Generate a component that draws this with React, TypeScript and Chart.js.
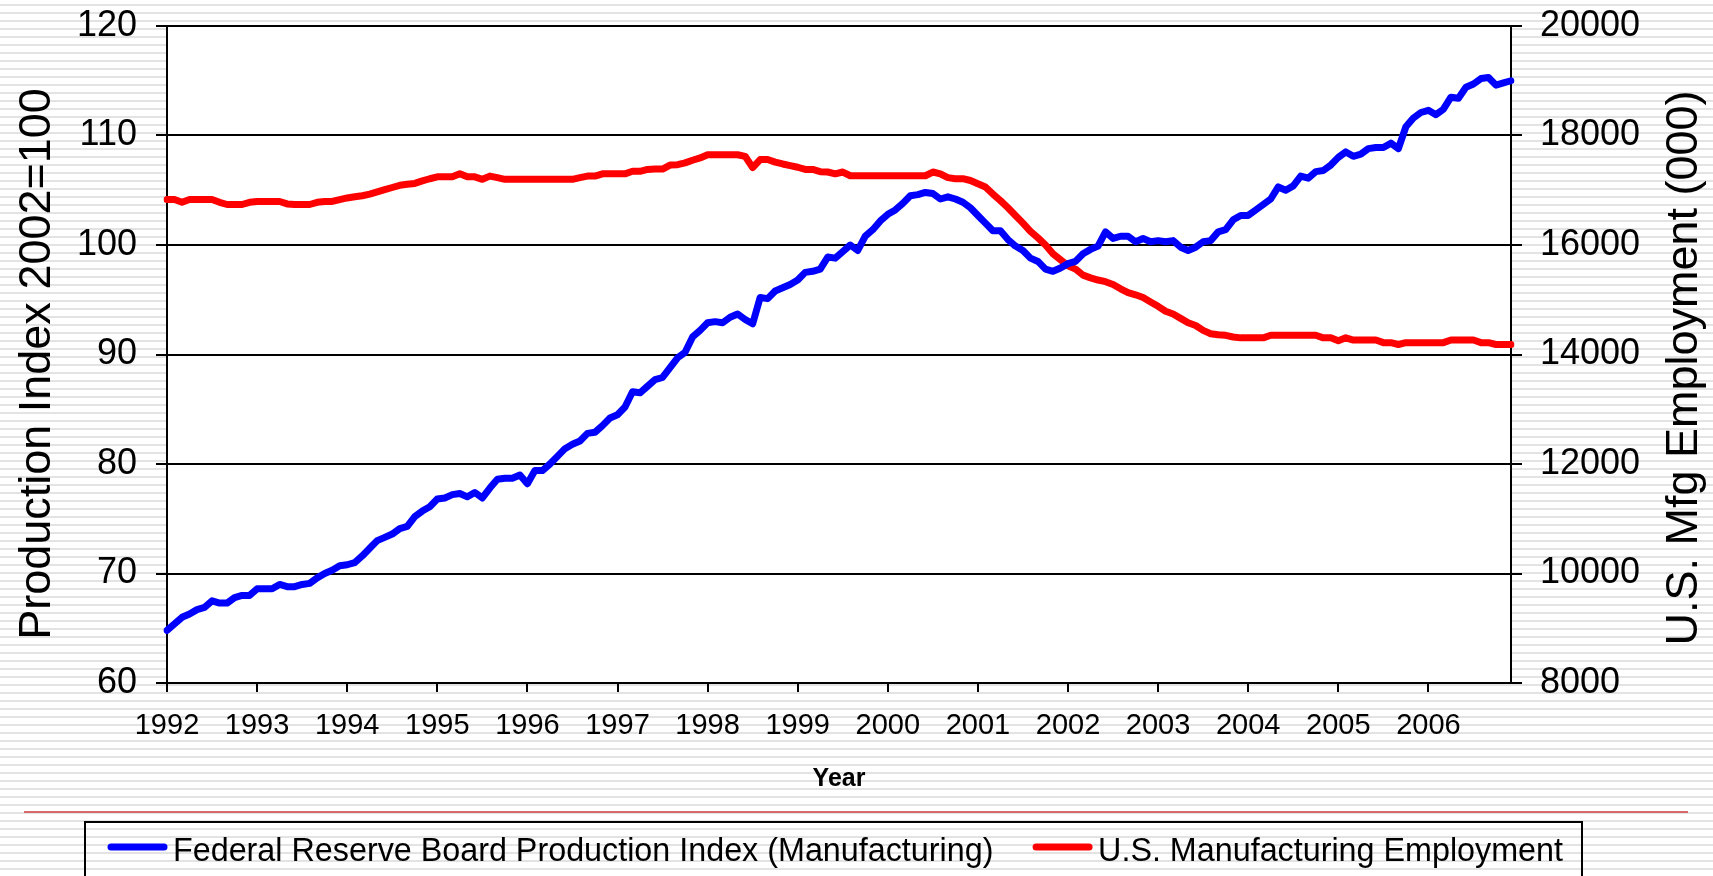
import React, { useEffect, useRef } from 'react';
import { Chart, registerables } from 'chart.js';

Chart.register(...registerables);

// ---------- data ----------
const YEARS = [1992, 1993, 1994, 1995, 1996, 1997, 1998, 1999, 2000, 2001, 2002, 2003, 2004, 2005, 2006];
const MONTHS = ['Jan', 'Feb', 'Mar', 'Apr', 'May', 'Jun', 'Jul', 'Aug', 'Sep', 'Oct', 'Nov', 'Dec'];
const MONTH_LABELS = YEARS.flatMap((y) => MONTHS.map((m) => `${m} ${y}`));

// Federal Reserve Board Production Index (Manufacturing), 2002 = 100, monthly
const PRODUCTION_INDEX = [
  64.8, 65.4, 66.0, 66.3, 66.7, 66.9, 67.5, 67.3, 67.3, 67.8, 68.0, 68.0, // 1992
  68.6, 68.6, 68.6, 69.0, 68.8, 68.8, 69.0, 69.1, 69.6, 70.0, 70.3, 70.7, // 1993
  70.8, 71.0, 71.6, 72.3, 73.0, 73.3, 73.6, 74.1, 74.3, 75.2, 75.7, 76.1, // 1994
  76.8, 76.9, 77.2, 77.3, 77.0, 77.4, 76.9, 77.8, 78.6, 78.7, 78.7, 79.0, // 1995
  78.2, 79.4, 79.4, 80.0, 80.7, 81.4, 81.8, 82.1, 82.8, 82.9, 83.5, 84.2, // 1996
  84.5, 85.2, 86.6, 86.5, 87.1, 87.7, 87.9, 88.8, 89.7, 90.2, 91.6, 92.2, // 1997
  92.9, 93.0, 92.9, 93.4, 93.7, 93.2, 92.8, 95.2, 95.1, 95.8, 96.1, 96.4, // 1998
  96.8, 97.5, 97.6, 97.8, 98.9, 98.8, 99.4, 100.0, 99.5, 100.8, 101.4, 102.2, // 1999
  102.8, 103.2, 103.8, 104.5, 104.6, 104.8, 104.7, 104.2, 104.4, 104.2, 103.9, 103.4, // 2000
  102.7, 102.0, 101.3, 101.3, 100.5, 99.9, 99.5, 98.8, 98.5, 97.8, 97.6, 97.9, // 2001
  98.3, 98.5, 99.2, 99.6, 99.9, 101.2, 100.6, 100.8, 100.8, 100.3, 100.6, 100.3, // 2002
  100.4, 100.3, 100.4, 99.8, 99.5, 99.8, 100.3, 100.4, 101.2, 101.4, 102.3, 102.7, // 2003
  102.7, 103.2, 103.7, 104.2, 105.3, 105.0, 105.4, 106.3, 106.1, 106.7, 106.8, 107.3, // 2004
  108.0, 108.5, 108.1, 108.3, 108.8, 108.9, 108.9, 109.3, 108.8, 110.8, 111.6, 112.1, // 2005
  112.3, 111.9, 112.4, 113.5, 113.4, 114.4, 114.7, 115.2, 115.3, 114.6, 114.8, 115.0, // 2006
];

// U.S. Manufacturing Employment (000), monthly
const MFG_EMPLOYMENT = [
  16830, 16830, 16780, 16830, 16830, 16830, 16830, 16780, 16740, 16740, 16740, 16780, // 1992
  16795, 16795, 16795, 16795, 16750, 16740, 16740, 16740, 16780, 16795, 16795, 16830, // 1993
  16860, 16880, 16900, 16930, 16970, 17010, 17050, 17090, 17110, 17125, 17170, 17210, // 1994
  17245, 17245, 17245, 17300, 17245, 17245, 17200, 17258, 17230, 17200, 17200, 17200, // 1995
  17200, 17200, 17200, 17200, 17200, 17200, 17200, 17230, 17258, 17258, 17300, 17300, // 1996
  17300, 17300, 17346, 17346, 17380, 17386, 17386, 17460, 17467, 17500, 17548, 17590, // 1997
  17649, 17649, 17649, 17649, 17649, 17620, 17413, 17561, 17561, 17514, 17480, 17450, // 1998
  17420, 17380, 17380, 17340, 17333, 17300, 17333, 17265, 17265, 17265, 17265, 17265, // 1999
  17265, 17265, 17265, 17265, 17265, 17265, 17333, 17300, 17230, 17211, 17211, 17178, // 2000
  17120, 17060, 16930, 16810, 16680, 16540, 16400, 16250, 16130, 16000, 15840, 15730, // 2001
  15620, 15560, 15450, 15400, 15360, 15330, 15280, 15200, 15130, 15090, 15040, 14960, // 2002
  14880, 14790, 14740, 14660, 14580, 14530, 14440, 14380, 14360, 14350, 14320, 14304, // 2003
  14304, 14304, 14304, 14351, 14351, 14351, 14351, 14351, 14351, 14351, 14304, 14304, // 2004
  14250, 14304, 14264, 14264, 14264, 14264, 14216, 14216, 14183, 14216, 14216, 14216, // 2005
  14216, 14216, 14216, 14264, 14264, 14264, 14264, 14216, 14216, 14183, 14183, 14183, // 2006
];

const SERIES_NAMES = [
  'Federal Reserve Board Production Index (Manufacturing)',
  'U.S. Manufacturing Employment',
];
const LEFT_TITLE = 'Production Index 2002=100';
const RIGHT_TITLE = 'U.S. Mfg Employment (000)';
const X_TITLE = 'Year';

const BLUE = '#0000ff';
const RED = '#ff0000';
const FONT = '"Liberation Sans", Arial, sans-serif';

const decorPlugin = {
  id: 'decor',
  beforeDraw(chart: any) {
    const { ctx, chartArea: a } = chart;
    ctx.save();
    ctx.fillStyle = '#ffffff';
    ctx.fillRect(a.left, a.top, a.right - a.left, a.bottom - a.top);
    ctx.restore();
  },
  afterDraw(chart: any) {
    const { ctx, chartArea: a } = chart;
    ctx.save();
    ctx.fillStyle = '#000';
    ctx.textAlign = 'center';
    ctx.textBaseline = 'alphabetic';
    ctx.font = `45px ${FONT}`;
    // left axis title
    ctx.save();
    ctx.translate(50, 364);
    ctx.rotate(-Math.PI / 2);
    ctx.fillText(LEFT_TITLE, 0, 0);
    ctx.restore();
    // right axis title
    ctx.save();
    ctx.translate(1697, 368);
    ctx.rotate(-Math.PI / 2);
    ctx.fillText(RIGHT_TITLE, 0, 0);
    ctx.restore();
    // x title
    ctx.font = `bold 25px ${FONT}`;
    ctx.textBaseline = 'middle';
    ctx.fillText(X_TITLE, (a.left + a.right) / 2, 779);

    // separator line
    ctx.strokeStyle = '#d76a6a';
    ctx.lineWidth = 2;
    ctx.beginPath();
    ctx.moveTo(24, 812);
    ctx.lineTo(1688, 812);
    ctx.stroke();

    // legend box
    ctx.strokeStyle = '#000';
    ctx.lineWidth = 2;
    ctx.strokeRect(85, 822, 1497, 120);

    ctx.font = `32.3px ${FONT}`;
    ctx.textAlign = 'left';
    ctx.textBaseline = 'alphabetic';
    ctx.lineCap = 'round';
    ctx.lineWidth = 7;
    // item 1
    ctx.strokeStyle = BLUE;
    ctx.beginPath();
    ctx.moveTo(111, 847);
    ctx.lineTo(164, 847);
    ctx.stroke();
    ctx.fillText(SERIES_NAMES[0], 173, 861);
    // item 2
    const w2 = ctx.measureText(SERIES_NAMES[1]).width;
    const x2 = 1563 - w2;
    ctx.strokeStyle = RED;
    ctx.beginPath();
    ctx.moveTo(x2 - 62, 847);
    ctx.lineTo(x2 - 9, 847);
    ctx.stroke();
    ctx.fillText(SERIES_NAMES[1], x2, 861);
    ctx.restore();
  },
};

export default function App() {
  const ref = useRef<HTMLCanvasElement>(null);

  useEffect(() => {
    document.body.style.margin = '0';
    document.body.style.overflow = 'hidden';
    const canvas = ref.current!;
    const chart = new Chart(canvas, {
      type: 'line',
      data: {
        labels: MONTH_LABELS,
        datasets: [
          {
            label: SERIES_NAMES[0],
            data: PRODUCTION_INDEX,
            yAxisID: 'y',
            borderColor: BLUE,
            backgroundColor: BLUE,
            borderWidth: 7,
            borderJoinStyle: 'round',
            borderCapStyle: 'round',
            pointRadius: 0,
            tension: 0,
          },
          {
            label: SERIES_NAMES[1],
            data: MFG_EMPLOYMENT,
            yAxisID: 'y1',
            borderColor: RED,
            backgroundColor: RED,
            borderWidth: 7,
            borderJoinStyle: 'round',
            borderCapStyle: 'round',
            pointRadius: 0,
            tension: 0,
          },
        ],
      },
      options: {
        animation: false,
        responsive: false,
        devicePixelRatio: 1,
        layout: { padding: { top: 26, left: 0, right: 0, bottom: 0 } },
        plugins: {
          legend: { display: false },
          tooltip: { enabled: false },
        },
        scales: {
          x: {
            type: 'category',
            offset: false,
            grid: {
              drawOnChartArea: false,
              drawTicks: true,
              tickLength: 9,
              lineWidth: 2,
              color: (c: any) => (c.index % 12 === 0 ? '#000' : 'rgba(0,0,0,0)'),
            },
            border: { display: true, color: '#000', width: 2 },
            ticks: {
              autoSkip: false,
              maxRotation: 0,
              minRotation: 0,
              padding: 17,
              color: '#000',
              font: { family: FONT, size: 29 },
              callback: (_v: any, i: number) => (i % 12 === 0 ? String(YEARS[i / 12]) : ''),
            },
            afterFit: (s: any) => {
              s.height = 193;
              s.paddingLeft = 0;
              s.paddingRight = 0;
            },
          },
          y: {
            position: 'left',
            min: 60,
            max: 120,
            ticks: {
              stepSize: 10,
              padding: 19,
              color: '#000',
              font: { family: FONT, size: 36 },
            },
            grid: { color: '#000', lineWidth: 2, tickLength: 11 },
            border: { display: true, color: '#000', width: 2 },
            afterFit: (s: any) => {
              s.width = 167;
              s.paddingTop = 0;
              s.paddingBottom = 0;
            },
          },
          y1: {
            position: 'right',
            min: 8000,
            max: 20000,
            ticks: {
              stepSize: 2000,
              padding: 18,
              color: '#000',
              font: { family: FONT, size: 36 },
              callback: (v: any) => String(v),
            },
            grid: { drawOnChartArea: false, color: '#000', lineWidth: 2, tickLength: 11 },
            border: { display: true, color: '#000', width: 2 },
            afterFit: (s: any) => {
              s.width = 202;
              s.paddingTop = 0;
              s.paddingBottom = 0;
            },
          },
        },
      },
      plugins: [decorPlugin],
    } as any);
    return () => chart.destroy();
  }, []);

  return (
    <div
      style={{
        position: 'relative',
        width: 1713,
        height: 876,
        overflow: 'hidden',
        background:
          'repeating-linear-gradient(to bottom, #ffffff 0px, #ffffff 4px, #e3e3e3 4px, #e3e3e3 6px, #ffffff 6px, #ffffff 8px)',
      }}
    >
      <canvas ref={ref} width={1713} height={876} style={{ display: 'block', width: 1713, height: 876 }} />
    </div>
  );
}
